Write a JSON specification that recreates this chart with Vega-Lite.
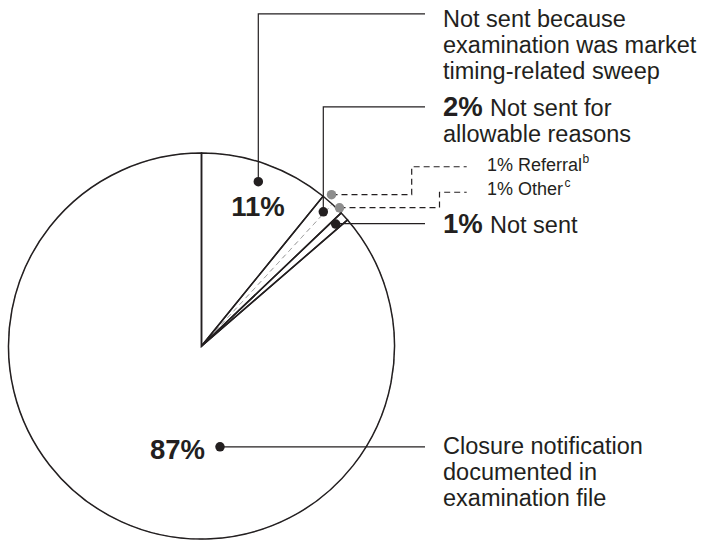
{
  "$schema": "https://vega.github.io/schema/vega-lite/v6.json",
  "width": 719,
  "height": 541,
  "autosize": {"type": "fit", "contains": "padding"},
  "padding": 0,
  "background": "white",
  "config": {"view": {"stroke": null}, "font": "Liberation Sans"},
  "datasets": {
    "slices": [
      {"name": "Not sent because examination was market timing-related sweep", "group": "sweep", "value": 10.85, "ord": 1},
      {"name": "Referral", "group": "allowable", "value": 1.0, "ord": 2},
      {"name": "Other", "group": "allowable", "value": 1.03, "ord": 3},
      {"name": "Not sent", "group": "notsent", "value": 0.78, "ord": 4},
      {"name": "Closure notification documented in examination file", "group": "documented", "value": 86.34, "ord": 5}
    ],
    "leaders": [
      {"id": "sweep", "seq": 1, "x": 258.3, "y": 182.7},
      {"id": "sweep", "seq": 2, "x": 258.3, "y": 14},
      {"id": "sweep", "seq": 3, "x": 425, "y": 14},
      {"id": "allowable", "seq": 1, "x": 323.3, "y": 213},
      {"id": "allowable", "seq": 2, "x": 323.3, "y": 107.5},
      {"id": "allowable", "seq": 3, "x": 425, "y": 107.5},
      {"id": "notsent", "seq": 1, "x": 335.7, "y": 224.8},
      {"id": "notsent", "seq": 2, "x": 425, "y": 224.8},
      {"id": "documented", "seq": 1, "x": 220, "y": 449.3},
      {"id": "documented", "seq": 2, "x": 425, "y": 449.3}
    ],
    "dashes": [
      {"id": "referral", "seq": 1, "x": 331.5, "y": 195.7},
      {"id": "referral", "seq": 2, "x": 411.7, "y": 195.7},
      {"id": "referral", "seq": 3, "x": 411.7, "y": 167.7},
      {"id": "referral", "seq": 4, "x": 466.7, "y": 167.7},
      {"id": "other", "seq": 1, "x": 339.5, "y": 208.7},
      {"id": "other", "seq": 2, "x": 439.5, "y": 208.7},
      {"id": "other", "seq": 3, "x": 439.5, "y": 193.3},
      {"id": "other", "seq": 4, "x": 466.7, "y": 193.3}
    ],
    "dots": [
      {"kind": "main", "x": 258.3, "y": 182.7},
      {"kind": "main", "x": 323.3, "y": 213},
      {"kind": "main", "x": 335.7, "y": 225.3},
      {"kind": "main", "x": 220, "y": 449.3},
      {"kind": "sub", "x": 331.5, "y": 195.8},
      {"kind": "sub", "x": 339.5, "y": 209}
    ],
    "labels": [
      {"role": "body", "x": 443, "y": 27, "text": "Not sent because"},
      {"role": "body", "x": 443, "y": 53, "text": "examination was market"},
      {"role": "body", "x": 443, "y": 79, "text": "timing-related sweep"},
      {"role": "body", "x": 490, "y": 117, "text": "Not sent for"},
      {"role": "body", "x": 443, "y": 143, "text": "allowable reasons"},
      {"role": "body", "x": 490, "y": 234, "text": "Not sent"},
      {"role": "body", "x": 443, "y": 457, "text": "Closure notification"},
      {"role": "body", "x": 443, "y": 483, "text": "documented in"},
      {"role": "body", "x": 443, "y": 509, "text": "examination file"},
      {"role": "pct", "x": 443, "y": 117, "text": "2%"},
      {"role": "pct", "x": 443, "y": 234, "text": "1%"},
      {"role": "pctCenter", "x": 258, "y": 217, "text": "11%"},
      {"role": "pctRight", "x": 205, "y": 462, "text": "87%"},
      {"role": "small", "x": 487, "y": 171.5, "text": "1% Referral"},
      {"role": "small", "x": 487, "y": 196.5, "text": "1% Other"},
      {"role": "sup", "x": 582.5, "y": 164, "text": "b"},
      {"role": "sup", "x": 564.5, "y": 188.5, "text": "c"}
    ]
  },
  "layer": [
    {
      "data": {"name": "slices"},
      "mark": {"type": "arc", "outerRadius": 193, "fill": "white", "stroke": "#a6a6a6", "strokeWidth": 1, "strokeDash": [5, 4]},
      "encoding": {
        "x": {"datum": 201.5, "type": "quantitative", "scale": {"domain": [0, 719], "nice": false, "zero": false}, "axis": null},
        "y": {"datum": 348, "type": "quantitative", "scale": {"domain": [0, 541], "nice": false, "zero": false, "reverse": true}, "axis": null},
        "theta": {"field": "value", "type": "quantitative", "stack": true},
        "detail": {"field": "name"},
        "order": {"field": "ord", "type": "quantitative"}
      }
    },
    {
      "data": {"name": "slices"},
      "transform": [
        {"aggregate": [{"op": "sum", "field": "value", "as": "gvalue"}, {"op": "min", "field": "ord", "as": "gord"}], "groupby": ["group"]}
      ],
      "mark": {"type": "arc", "outerRadius": 193, "fill": "white", "fillOpacity": 0, "stroke": "#231f20", "strokeWidth": 1.5},
      "encoding": {
        "x": {"datum": 201.5, "type": "quantitative", "scale": {"domain": [0, 719], "nice": false, "zero": false}, "axis": null},
        "y": {"datum": 348, "type": "quantitative", "scale": {"domain": [0, 541], "nice": false, "zero": false, "reverse": true}, "axis": null},
        "theta": {"field": "gvalue", "type": "quantitative", "stack": true},
        "detail": {"field": "group"},
        "order": {"field": "gord", "type": "quantitative"}
      }
    },
    {
      "data": {"name": "leaders"},
      "mark": {"type": "line", "color": "#231f20", "strokeWidth": 1.2},
      "encoding": {
        "x": {"field": "x", "type": "quantitative", "scale": {"domain": [0, 719], "nice": false, "zero": false}, "axis": null},
        "y": {"field": "y", "type": "quantitative", "scale": {"domain": [0, 541], "nice": false, "zero": false, "reverse": true}, "axis": null},
        "detail": {"field": "id"},
        "order": {"field": "seq", "type": "quantitative"}
      }
    },
    {
      "data": {"name": "dashes"},
      "mark": {"type": "line", "color": "#231f20", "strokeWidth": 1.2, "strokeDash": [6, 4]},
      "encoding": {
        "x": {"field": "x", "type": "quantitative", "scale": {"domain": [0, 719], "nice": false, "zero": false}, "axis": null},
        "y": {"field": "y", "type": "quantitative", "scale": {"domain": [0, 541], "nice": false, "zero": false, "reverse": true}, "axis": null},
        "detail": {"field": "id"},
        "order": {"field": "seq", "type": "quantitative"}
      }
    },
    {
      "data": {"name": "dots"},
      "mark": {"type": "point", "filled": true, "size": 90, "opacity": 1},
      "encoding": {
        "x": {"field": "x", "type": "quantitative", "scale": {"domain": [0, 719], "nice": false, "zero": false}, "axis": null},
        "y": {"field": "y", "type": "quantitative", "scale": {"domain": [0, 541], "nice": false, "zero": false, "reverse": true}, "axis": null},
        "color": {"field": "kind", "type": "nominal", "scale": {"domain": ["main", "sub"], "range": ["#231f20", "#8d8d8d"]}, "legend": null}
      }
    },
    {
      "data": {"name": "labels"},
      "transform": [{"filter": "datum.role === 'body'"}],
      "mark": {"type": "text", "align": "left", "baseline": "alphabetic", "fontSize": 23.5, "color": "#231f20", "font": "Liberation Sans"},
      "encoding": {
        "x": {"field": "x", "type": "quantitative", "scale": {"domain": [0, 719], "nice": false, "zero": false}, "axis": null},
        "y": {"field": "y", "type": "quantitative", "scale": {"domain": [0, 541], "nice": false, "zero": false, "reverse": true}, "axis": null},
        "text": {"field": "text"}
      }
    },
    {
      "data": {"name": "labels"},
      "transform": [{"filter": "datum.role === 'pct'"}],
      "mark": {"type": "text", "align": "left", "baseline": "alphabetic", "fontSize": 27.5, "fontWeight": "bold", "color": "#231f20", "font": "Liberation Sans"},
      "encoding": {
        "x": {"field": "x", "type": "quantitative", "scale": {"domain": [0, 719], "nice": false, "zero": false}, "axis": null},
        "y": {"field": "y", "type": "quantitative", "scale": {"domain": [0, 541], "nice": false, "zero": false, "reverse": true}, "axis": null},
        "text": {"field": "text"}
      }
    },
    {
      "data": {"name": "labels"},
      "transform": [{"filter": "datum.role === 'pctCenter'"}],
      "mark": {"type": "text", "align": "center", "baseline": "alphabetic", "fontSize": 27.5, "fontWeight": "bold", "color": "#231f20", "font": "Liberation Sans"},
      "encoding": {
        "x": {"field": "x", "type": "quantitative", "scale": {"domain": [0, 719], "nice": false, "zero": false}, "axis": null},
        "y": {"field": "y", "type": "quantitative", "scale": {"domain": [0, 541], "nice": false, "zero": false, "reverse": true}, "axis": null},
        "text": {"field": "text"}
      }
    },
    {
      "data": {"name": "labels"},
      "transform": [{"filter": "datum.role === 'pctRight'"}],
      "mark": {"type": "text", "align": "right", "baseline": "alphabetic", "fontSize": 27.5, "fontWeight": "bold", "color": "#231f20", "font": "Liberation Sans"},
      "encoding": {
        "x": {"field": "x", "type": "quantitative", "scale": {"domain": [0, 719], "nice": false, "zero": false}, "axis": null},
        "y": {"field": "y", "type": "quantitative", "scale": {"domain": [0, 541], "nice": false, "zero": false, "reverse": true}, "axis": null},
        "text": {"field": "text"}
      }
    },
    {
      "data": {"name": "labels"},
      "transform": [{"filter": "datum.role === 'small'"}],
      "mark": {"type": "text", "align": "left", "baseline": "alphabetic", "fontSize": 18, "color": "#231f20", "font": "Liberation Sans"},
      "encoding": {
        "x": {"field": "x", "type": "quantitative", "scale": {"domain": [0, 719], "nice": false, "zero": false}, "axis": null},
        "y": {"field": "y", "type": "quantitative", "scale": {"domain": [0, 541], "nice": false, "zero": false, "reverse": true}, "axis": null},
        "text": {"field": "text"}
      }
    },
    {
      "data": {"name": "labels"},
      "transform": [{"filter": "datum.role === 'sup'"}],
      "mark": {"type": "text", "align": "left", "baseline": "alphabetic", "fontSize": 12, "color": "#231f20", "font": "Liberation Sans"},
      "encoding": {
        "x": {"field": "x", "type": "quantitative", "scale": {"domain": [0, 719], "nice": false, "zero": false}, "axis": null},
        "y": {"field": "y", "type": "quantitative", "scale": {"domain": [0, 541], "nice": false, "zero": false, "reverse": true}, "axis": null},
        "text": {"field": "text"}
      }
    }
  ]
}
